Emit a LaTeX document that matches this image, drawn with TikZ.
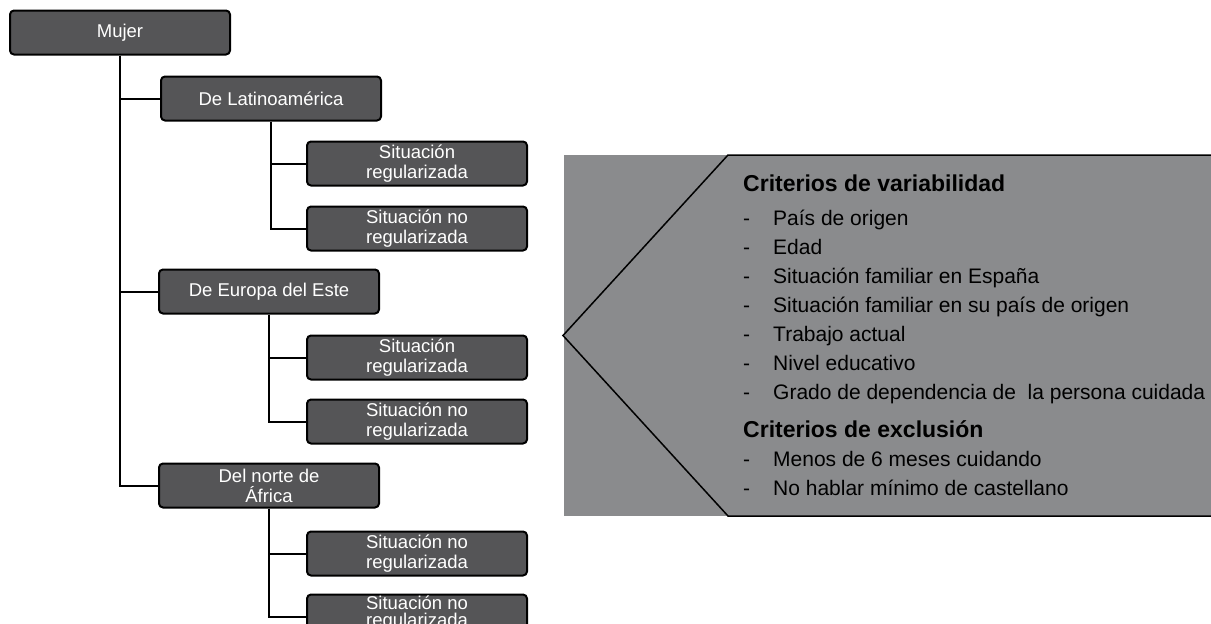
\documentclass[tikz,border=0pt]{standalone}
\usepackage{fontspec}
\setmainfont{Liberation Sans}
\usepackage{xcolor}
\usetikzlibrary{positioning}

\definecolor{boxgray}{RGB}{85,85,87}
\definecolor{panelgray}{RGB}{138,139,141}

\begin{document}
\begin{tikzpicture}[
    x=1pt, y=-1pt,
    font=\fontsize{18.5}{20}\selectfont,
    box/.style={draw, line width=2pt, rounded corners=4pt, fill=boxgray, text=white, align=center,
        minimum width=220pt, minimum height=44pt, inner sep=0pt},
    link/.style={line width=2pt},
    crithead/.style={anchor=base west, inner sep=0pt, font=\fontsize{23}{25}\selectfont\bfseries},
    critem/.style={anchor=base west, inner sep=0pt, font=\fontsize{21}{23}\selectfont}
]
\useasboundingbox (0,0) rectangle (1211,624);

% tree
\node[box] (mujer) at (120,32.5) {Mujer};
\node[box, below right=20pt and -71pt of mujer] (lat) {De Latinoamérica};
\node[box, below right=19pt and -76pt of lat] (lat1) {Situación\\regularizada};
\node[box, below=19pt of lat1] (lat2) {Situación no\\regularizada};

\node[box, below=147pt of lat, xshift=-2pt] (eur) {De Europa del Este};
\node[box, below right=20pt and -74pt of eur] (eur1) {Situación\\regularizada};
\node[box, below=18pt of eur1] (eur2) {Situación no\\regularizada};

\node[box, below=148pt of eur] (afr) {Del norte de\\África};
\node[box, below right=22pt and -74pt of afr] (afr1) {Situación no\\regularizada};
% last box runs off the page, so its text sits a little higher
\node[box, below=17pt of afr1, font=\fontsize{18.5}{19}\selectfont] (afr2)
  {\raisebox{-10pt}[0pt][0pt]{\shortstack{Situación no\\regularizada}}};

\draw[link] (mujer.south) |- (lat.west);
\draw[link] (mujer.south) |- (eur.west);
\draw[link] (mujer.south) |- (afr.west);
\draw[link] (lat.south) |- (lat1.west);
\draw[link] (lat.south) |- (lat2.west);
\draw[link] (eur.south) |- (eur1.west);
\draw[link] (eur.south) |- (eur2.west);
\draw[link] (afr.south) |- (afr1.west);
\draw[link] (afr.south) |- (afr2.west);

% criteria panel
\fill[panelgray] (564,155) rectangle (1211,516);
\draw[line width=1.5pt] (1211,155) -- (728,155) -- (563,335.5) -- (728,516) -- (1211,516);

\node[crithead] (vartitle) at (743,191) {Criterios de variabilidad};
\foreach \txt [count=\i] in {País de origen, Edad, Situación familiar en España,
    Situación familiar en su país de origen, Trabajo actual, Nivel educativo,
    Grado de dependencia de\ \ la persona cuidada} {
  \node[critem] (vardash\i) at (743,225+29*\i-29) {-};
  \node[critem] (var\i) at (773,225+29*\i-29) {\txt};
}
\node[crithead] (exctitle) at (743,437) {Criterios de exclusión};
\foreach \txt [count=\i] in {Menos de 6 meses cuidando, No hablar mínimo de castellano} {
  \node[critem] (excdash\i) at (743,466+29*\i-29) {-};
  \node[critem] (exc\i) at (773,466+29*\i-29) {\txt};
}
\end{tikzpicture}
\end{document}
